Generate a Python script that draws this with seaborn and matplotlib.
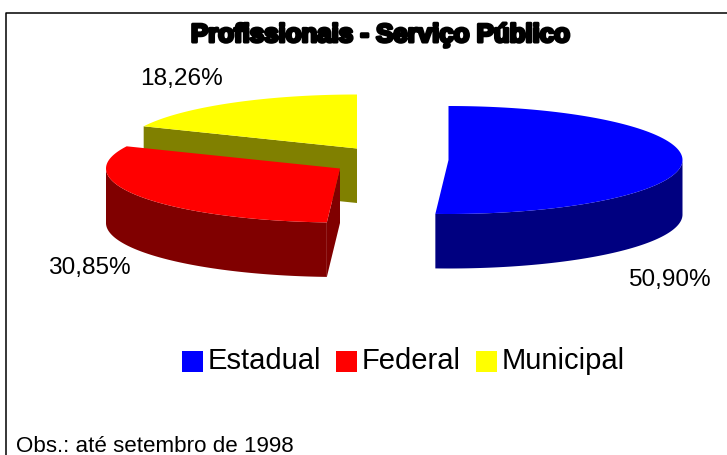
import numpy as np
import matplotlib
matplotlib.use("Agg")
import matplotlib.pyplot as plt
import matplotlib.patheffects as pe
import seaborn as sns

# ---- data
categories = ["Estadual", "Federal", "Municipal"]
values = [50.90, 30.85, 18.26]
value_labels = ["50,90%", "30,85%", "18,26%"]
title = "Profissionais - Serviço Público"
note = "Obs.: até setembro de 1998"

# ---- style
top_colors = sns.color_palette(["#0000ff", "#ff0000", "#ffff00"])
side_colors = sns.color_palette(["#000080", "#800000", "#808000"])
centers = [(448.5, 161), (340, 169.5), (357, 149.5)]
label_pos = [(628, 286), (48, 274), (140, 85)]
RX, RY, DEPTH = 234, 54, 54.5

sns.set_theme(style="white")
plt.rcParams["font.family"] = ["Liberation Sans", "DejaVu Sans"]

fig = plt.figure(figsize=(7.27, 4.56), dpi=100, facecolor="white")
ax = fig.add_axes([0, 0, 1, 1])
ax.set_xlim(0, 727)
ax.set_ylim(456, 0)
ax.axis("off")

total = sum(values)
sweeps = [v / total * 360 for v in values]
starts = 90 - np.cumsum([0] + sweeps[:-1])


def arc(c, a0, a1, n=160):
    t = np.radians(np.linspace(a0, a1, n))
    return c[0] + RX * np.cos(t), c[1] - RY * np.sin(t)


def fill(xs, ys, color, **kw):
    ax.fill(xs, ys, color=color, lw=0, **kw)


# Municipal: radial side wall (from the left arc end to the apex), then top
i = 2
c = centers[i]
a0, a1 = starts[i], starts[i] - sweeps[i]
x, y = arc(c, a0, a1)
fill([x[0], c[0], c[0], x[0]],
     [y[0], c[1], c[1] + DEPTH, y[0] + DEPTH], side_colors[i])
fill(np.r_[c[0], x], np.r_[c[1], y], top_colors[i], label=categories[i])

# Federal: outer rim, radial wall, top
i = 1
c = centers[i]
a0, a1 = starts[i], starts[i] - sweeps[i]
x, y = arc(c, a0, a1)
rx_, ry_ = arc(c, a0, -180)
fill(np.r_[rx_, rx_[::-1]], np.r_[ry_, ry_[::-1] + DEPTH], side_colors[i])
fill([c[0], x[0], x[0], c[0]], [c[1], y[0], y[0] + DEPTH, c[1] + DEPTH], side_colors[i])
fill(np.r_[c[0], x], np.r_[c[1], y], top_colors[i], label=categories[i])

# Estadual: outer rim, top
i = 0
c = centers[i]
a0, a1 = starts[i], starts[i] - sweeps[i]
x, y = arc(c, a0, a1)
rx_, ry_ = arc(c, a1, 0)
fill(np.r_[rx_, rx_[::-1]], np.r_[ry_, ry_[::-1] + DEPTH], side_colors[i])
fill(np.r_[c[0], x], np.r_[c[1], y], top_colors[i], label=categories[i])

# labels
for (lx, ly), s in zip(label_pos, value_labels):
    ax.text(lx, ly, s, fontsize=17.6, color="black", ha="left", va="baseline")

ax.text(380.5, 43, title, fontsize=18.6, fontweight="bold", color="black",
        ha="center", va="baseline",
        path_effects=[pe.withStroke(linewidth=2.2, foreground="black")])
ax.text(16, 452, note, fontsize=16.1, color="black", ha="left", va="baseline")

# chart frame
ax.plot([6, 6, 727], [456, 13.5, 13.5], color="black", lw=1.1, solid_capstyle="butt")

# legend
h, l = ax.get_legend_handles_labels()
order = [l.index(n) for n in categories]
leg = ax.legend([h[k] for k in order], [l[k] for k in order], ncols=3, frameon=False,
                fontsize=21, labelcolor="black",
                handlelength=0.72, handleheight=0.72, handletextpad=0.17,
                columnspacing=0.5, borderpad=0, borderaxespad=0,
                loc="center left", bbox_to_anchor=(182 / 727, 1 - 361 / 456))
for p in leg.get_patches():
    p.set_y(p.get_y() - 2.5)

fig.savefig("out.png", dpi=100, facecolor="white")
